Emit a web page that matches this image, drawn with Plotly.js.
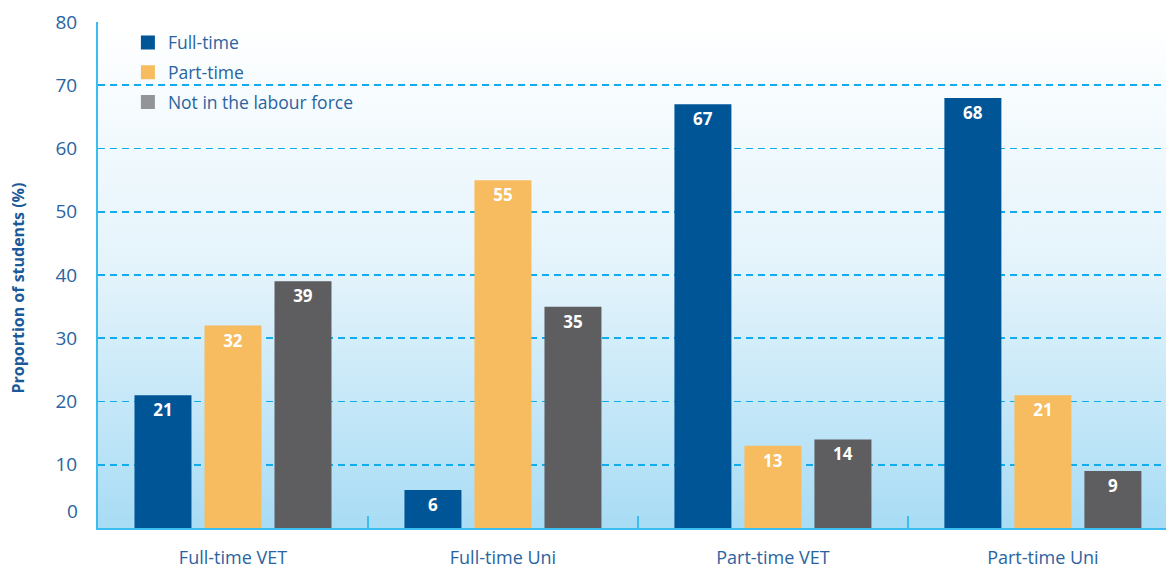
<!DOCTYPE html>
<html><head><meta charset="utf-8">
<script src="https://cdn.plot.ly/plotly-3.0.1.min.js"></script>
<style>html,body{margin:0;padding:0;background:#fff}#chart{width:1166px;height:569px}</style>
</head><body><div id="chart"></div>
<script>
const categories = ['Full-time VET', 'Full-time Uni', 'Part-time VET', 'Part-time Uni'];
const fullTime = [21, 6, 67, 68];
const partTime = [32, 55, 13, 21];
const notInLabourForce = [39, 35, 14, 9];
const seriesNames = ['Full-time', 'Part-time', 'Not in the labour force'];
const yTickVals = [10, 20, 30, 40, 50, 60, 70, 80];
const zeroLabel = '0';
const yTitle = 'Proportion of students (%)';

const barColors = ['#005596', '#f6bc5f', '#5e5e60'];
const legendColors = ['#005596', '#f6bc5f', '#929497'];
const textBlue = '#2a64a0';
const lineBlue = '#3cbdf0';
const font = 'Open Sans, Noto Sans, sans-serif';

const series = [fullTime, partTime, notInLabourForce];
const traces = [];
series.forEach((vals, i) => {
  traces.push({
    type: 'bar', x: categories, y: vals, name: seriesNames[i], showlegend: false,
    marker: {color: barColors[i]},
    text: vals.map(String), textposition: 'inside', insidetextanchor: 'end',
    textfont: {family: font, size: 17, color: '#ffffff', weight: 700},
    cliponaxis: false, hoverinfo: 'skip'
  });
});
series.forEach((vals, i) => {
  traces.push({
    type: 'scatter', mode: 'markers', x: [null], y: [null], name: seriesNames[i],
    marker: {symbol: 'square', size: 14, color: legendColors[i]},
    legendgroup: 'g' + i, showlegend: true, hoverinfo: 'skip'
  });
});

const svg = '<svg xmlns="http://www.w3.org/2000/svg" width="100" height="100" preserveAspectRatio="none">' +
  '<defs><linearGradient id="g" x1="0" y1="0" x2="0" y2="1">' +
  '<stop offset="0" stop-color="#ffffff"/><stop offset="0.5" stop-color="#e3f3fb"/><stop offset="1" stop-color="#a8dcf5"/>' +
  '</linearGradient></defs><rect width="100" height="100" fill="url(#g)"/></svg>';
const bgImg = 'data:image/svg+xml;charset=utf-8,' + encodeURIComponent(svg);

const layout = {
  width: 1166, height: 569,
  margin: {l: 98, r: 0, t: 22, b: 41},
  paper_bgcolor: '#ffffff', plot_bgcolor: 'rgba(0,0,0,0)',
  barmode: 'group', bargap: 0.222, bargroupgap: 0.186,
  font: {family: font, color: textBlue},
  xaxis: {
    type: 'category', range: [-0.5, 3.456], fixedrange: true,
    showline: true, linecolor: lineBlue, linewidth: 2,
    ticks: 'inside', tickson: 'boundaries', ticklen: 12, tickcolor: lineBlue, tickwidth: 1.5,
    tickfont: {family: font, size: 18, color: textBlue}, ticklabelstandoff: 12,
    showgrid: false
  },
  yaxis: {
    range: [0, 80], fixedrange: true, tickvals: yTickVals,
    showline: true, linecolor: lineBlue, linewidth: 2,
    showgrid: true, gridcolor: '#10aceb', gridwidth: 1.6, griddash: '7px,5px',
    zeroline: false, ticks: '',
    tickfont: {family: font, size: 19, color: textBlue}, ticklabelstandoff: 15
  },
  legend: {
    x: 0.028, y: 0.995, xanchor: 'left', yanchor: 'top',
    bgcolor: 'rgba(0,0,0,0)', traceorder: 'grouped', tracegroupgap: 4,
    font: {family: font, size: 17.5, color: textBlue}, itemwidth: 30
  },
  images: [{source: bgImg, xref: 'paper', yref: 'paper', x: 0, y: 1, sizex: 1, sizey: 1,
    sizing: 'stretch', layer: 'below', xanchor: 'left', yanchor: 'top'}],
  annotations: [
    {text: yTitle, xref: 'paper', yref: 'paper', x: -0.075, y: 0.475, textangle: -90,
      showarrow: false, xanchor: 'center', yanchor: 'middle',
      font: {family: font, size: 16, color: '#1a5a9a', weight: 700}},
    {text: zeroLabel, xref: 'paper', yref: 'paper', x: -0.0165, y: 0.034,
      showarrow: false, xanchor: 'right', yanchor: 'middle',
      font: {family: font, size: 19, color: textBlue}}
  ]
};

Plotly.newPlot('chart', traces, layout, {displayModeBar: false, staticPlot: true});
</script></body></html>
